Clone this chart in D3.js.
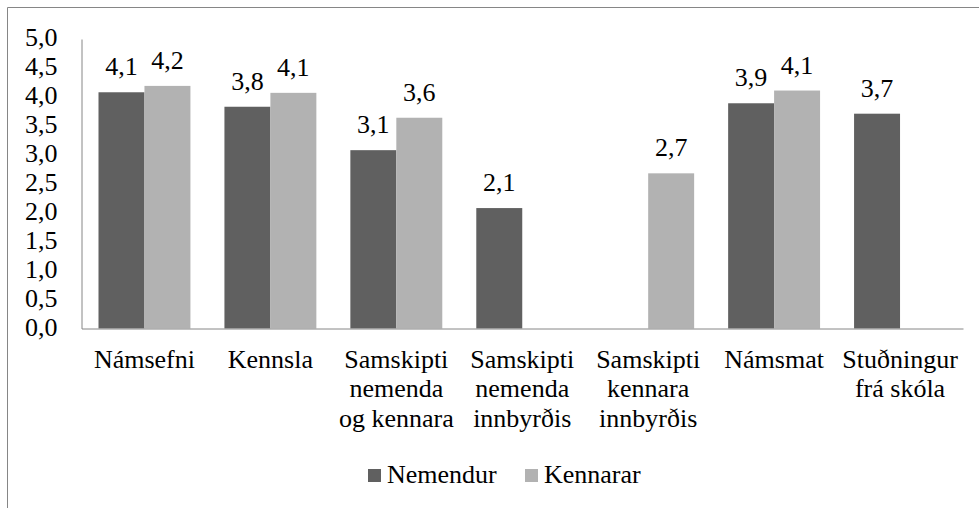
<!DOCTYPE html>
<html>
<head>
<meta charset="utf-8">
<script src="https://cdn.jsdelivr.net/npm/d3@7"></script>
</head>
<body style="margin:0">
<script>
// categories (line breaks as in the original axis)
const categories = [
  'Námsefni',
  'Kennsla',
  'Samskipti\nnemenda\nog kennara',
  'Samskipti\nnemenda\ninnbyrðis',
  'Samskipti\nkennara\ninnbyrðis',
  'Námsmat',
  'Stuðningur\nfrá skóla'
]
const seriesNames = ['Nemendur', 'Kennarar']
const nemendur = [4.08, 3.83, 3.08, 2.08, null, 3.89, 3.71]
const kennarar = [4.19, 4.07, 3.64, null, 2.68, 4.11, null]
const seriesColors = ['#606060', '#b2b2b2']
const yTicks = [0, 0.5, 1, 1.5, 2, 2.5, 3, 3.5, 4, 4.5, 5]

const width = 979
const height = 508

const locale = d3.formatLocale({ decimal: ',', thousands: '.', grouping: [3], currency: ['', ' kr.'] })
const fmt = locale.format('.1f')

const svg = d3.select('body')
  .append('svg')
  .attr('width', width)
  .attr('height', height)
  .attr('font-family', 'Liberation Serif')
  .attr('font-size', 26)
  .style('display', 'block')

// every label gets the font inline too
function textStyle(sel) {
  sel.style('font-family', d => 'Liberation Serif')
    .style('font-size', '26px')
    .style('fill', '#000')
}

// outer chart frame (runs off the right and bottom edge)
svg.append('path')
  .attr('d', `M7.5,${height}V7.5H${width}`)
  .attr('fill', 'none')
  .attr('stroke', '#868686')

const plot = { left: 81.5, right: 963, top: 39, bottom: 328.5 }

const x0 = d3.scaleBand()
  .domain(categories)
  .range([plot.left, plot.right])
  .padding(0)

const x1 = d3.scaleBand()
  .domain(seriesNames)
  .range([17, x0.bandwidth() - 17])
  .padding(0)

const y = d3.scaleLinear()
  .domain([0, 5])
  .range([plot.bottom, plot.top])

const color = d3.scaleOrdinal(seriesNames, seriesColors)

// rows: one entry per category with both series
const rows = categories.map((c, i) => ({
  cat: c,
  values: [
    { key: 'Nemendur', value: nemendur[i] },
    { key: 'Kennarar', value: kennarar[i] }
  ].filter(d => d.value != null)
}))

const groups = svg.append('g')
  .selectAll('g')
  .data(rows)
  .join('g')
  .attr('transform', d => `translate(${x0(d.cat)},0)`)

groups.selectAll('rect')
  .data(d => d.values)
  .join('rect')
  .attr('x', d => x1(d.key))
  .attr('y', d => y(d.value))
  .attr('width', x1.bandwidth())
  .attr('height', d => y(0) - y(d.value))
  .attr('fill', d => color(d.key))

groups.selectAll('text')
  .data(d => d.values)
  .join('text')
  .attr('text-anchor', 'middle')
  .attr('x', d => x1(d.key) + x1.bandwidth() / 2)
  .attr('y', d => y(d.value) - 17)
  .call(textStyle)
  .text(d => fmt(d.value))

// y axis: line from the axis generator, labels written out from the same scale
const yAxis = svg.append('g')
  .attr('transform', `translate(${plot.left},0)`)
  .call(d3.axisLeft(y).tickValues(yTicks).tickSize(0).tickFormat(''))
yAxis.attr('font-family', null).attr('font-size', null)
yAxis.select('.domain').attr('stroke', '#868686')
yAxis.selectAll('.tick text').remove()

svg.append('g')
  .selectAll('text')
  .data(yTicks)
  .join('text')
  .attr('text-anchor', 'end')
  .attr('x', plot.left - 24)
  .attr('y', d => y(d) + 7)
  .call(textStyle)
  .text(d => fmt(d))

// x axis
const xAxis = svg.append('g')
  .attr('transform', `translate(0,${plot.bottom})`)
  .call(d3.axisBottom(x0).tickSize(0).tickFormat(''))
xAxis.attr('font-family', null).attr('font-size', null)
xAxis.select('.domain').attr('stroke', '#868686')
xAxis.selectAll('.tick text').remove()

// category labels, one text per line
const catLines = []
categories.forEach(c => {
  c.split('\n').forEach((line, i) => catLines.push({ cat: c, line, i }))
})

svg.append('g')
  .selectAll('text')
  .data(catLines)
  .join('text')
  .attr('text-anchor', 'middle')
  .attr('x', d => x0(d.cat) + x0.bandwidth() / 2)
  .attr('y', d => plot.bottom + 39 + d.i * 29.5)
  .call(textStyle)
  .text(d => d.line)

// legend
const legendX = [368, 525]
const legend = svg.append('g')
  .selectAll('g')
  .data(seriesNames)
  .join('g')
  .attr('transform', (d, i) => `translate(${legendX[i]},469)`)

legend.append('rect')
  .attr('width', 13)
  .attr('height', 13)
  .attr('fill', d => color(d))

legend.append('text')
  .attr('x', 19)
  .attr('y', 14)
  .call(textStyle)
  .text(d => d)
</script>
</body>
</html>
